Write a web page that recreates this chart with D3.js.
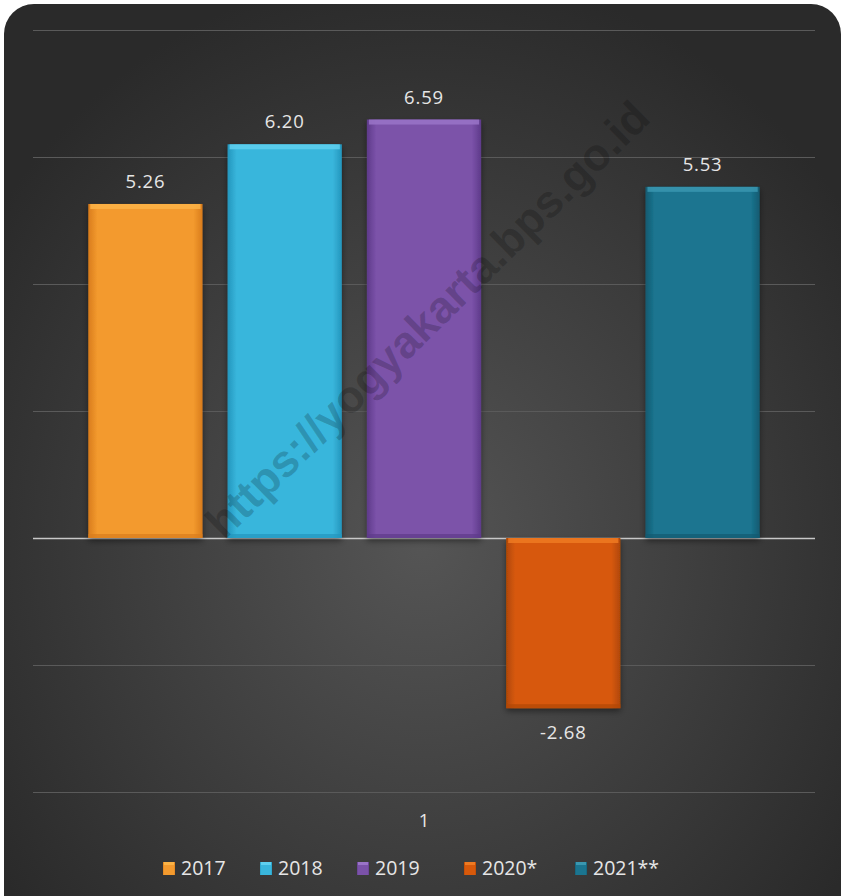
<!DOCTYPE html>
<html><head><meta charset="utf-8">
<script src="https://cdn.jsdelivr.net/npm/d3@7"></script>
<style>html,body{margin:0;padding:0;background:#fff;}svg{display:block;}</style>
</head><body>
<script>
const categories = ["1"];
const seriesNames = ["2017", "2018", "2019", "2020*", "2021**"];
const seriesValues = [5.26, 6.20, 6.59, -2.68, 5.53];
const valueLabels = ["5.26", "6.20", "6.59", "-2.68", "5.53"];
const yTicks = [-4, -2, 0, 2, 4, 6, 8];
const seriesColors = [
  {base:"#f39a2e", light:"#fbb346", dark:"#d97c1c"},
  {base:"#39b6dc", light:"#5fd0ef", dark:"#2396bd"},
  {base:"#7b52a9", light:"#9a74c8", dark:"#5e3a8a"},
  {base:"#d7590b", light:"#ee7a22", dark:"#b04706"},
  {base:"#1b7590", light:"#3a97b0", dark:"#125a70"}
];

const W = 841, H = 896;
const svg = d3.select("body").append("svg").attr("width", W).attr("height", H);
const defs = svg.append("defs");

const bg = defs.append("radialGradient").attr("id","bg").attr("cx","50%").attr("cy","58%").attr("r","62%");
bg.append("stop").attr("offset","0%").attr("stop-color","#555555");
bg.append("stop").attr("offset","100%").attr("stop-color","#2a2a2a");

const sh = defs.append("filter").attr("id","shadow").attr("x","-20%").attr("y","-20%").attr("width","140%").attr("height","140%");
sh.append("feDropShadow").attr("dx",0).attr("dy",3).attr("stdDeviation",3).attr("flood-color","#000").attr("flood-opacity",0.45);

seriesColors.forEach((c,i)=>{
  const g = defs.append("linearGradient").attr("id","bar"+i).attr("x1","0%").attr("x2","100%").attr("y1","0%").attr("y2","0%");
  g.append("stop").attr("offset","0%").attr("stop-color",c.dark);
  g.append("stop").attr("offset","8%").attr("stop-color",c.base);
  g.append("stop").attr("offset","92%").attr("stop-color",c.base);
  g.append("stop").attr("offset","100%").attr("stop-color",c.dark);
});

svg.append("rect").attr("x",4).attr("y",4).attr("width",W-4).attr("height",H+30)
  .attr("rx",30).attr("ry",30).attr("fill","url(#bg)");

const x0 = d3.scaleBand().domain(categories).range([33, 815]).paddingOuter(0.0614).paddingInner(0);
const x1 = d3.scaleBand().domain(seriesNames).range([0, x0.bandwidth()]).paddingInner(0.18).paddingOuter(0.09);
const y = d3.scaleLinear().domain([-4, 8]).range([792, 30]);

// gridlines
const yAxis = d3.axisLeft(y).tickValues(yTicks).tickSize(-(815-33)).tickFormat("");
const ga = svg.append("g").attr("transform","translate(33,0)").call(yAxis);
ga.select(".domain").remove();
ga.selectAll(".tick line").attr("stroke", d => d===0 ? "#c8c8c8" : "#5a5a5a").attr("stroke-width", d => d===0 ? 1.5 : 1);

const gBars = svg.append("g").attr("transform",`translate(${x0("1")},0)`);
seriesNames.forEach((s,i)=>{
  const v = seriesValues[i];
  const bx = x1(s), bw = x1.bandwidth();
  const top = y(Math.max(0,v)), bot = y(Math.min(0,v));
  gBars.append("rect").attr("x",bx).attr("y",top).attr("width",bw).attr("height",bot-top)
    .attr("fill",`url(#bar${i})`).attr("filter","url(#shadow)");
  gBars.append("rect").attr("x",bx+2).attr("y",top).attr("width",bw-4).attr("height",5)
    .attr("fill",seriesColors[i].light).attr("opacity",0.85);
  gBars.append("rect").attr("x",bx).attr("y",bot-4).attr("width",bw).attr("height",4)
    .attr("fill",seriesColors[i].dark).attr("opacity",0.7);
  const ly = v >= 0 ? y(v) - 16 : y(v) + 31;
  gBars.append("text").attr("x",bx+bw/2).attr("y",ly).attr("text-anchor","middle")
    .attr("font-family","Open Sans, sans-serif").attr("font-size",18.5).attr("letter-spacing",0.8)
    .attr("fill","#e6e6e6").text(valueLabels[i]);
});

// watermark (drawn over bars)
svg.append("text").attr("x",430).attr("y",322).attr("text-anchor","middle").attr("dominant-baseline","middle")
  .attr("transform","rotate(-44.5,430,322)")
  .attr("font-family","Liberation Sans, Arial, sans-serif").attr("font-weight","bold").attr("font-size",45)
  .attr("fill","#000").attr("fill-opacity",0.2).text("https://yogyakarta.bps.go.id");

// category label
svg.append("text").attr("x",x0("1")+x0.bandwidth()/2).attr("y",827).attr("text-anchor","middle")
  .attr("font-family","Open Sans, sans-serif").attr("font-size",18.5).attr("fill","#e6e6e6").text(categories[0]);

// legend
const legendX = [163, 260, 357, 464, 575];
const lg = svg.append("g");
seriesNames.forEach((s,i)=>{
  lg.append("rect").attr("x",legendX[i]).attr("y",862).attr("width",12).attr("height",13)
    .attr("fill",`url(#bar${i})`);
  lg.append("rect").attr("x",legendX[i]+1).attr("y",862).attr("width",10).attr("height",3)
    .attr("fill",seriesColors[i].light);
  lg.append("text").attr("x",legendX[i]+18).attr("y",875)
    .attr("font-family","Open Sans, sans-serif").attr("font-size",19.5).attr("fill","#e6e6e6").text(s);
});
</script>
</body></html>
